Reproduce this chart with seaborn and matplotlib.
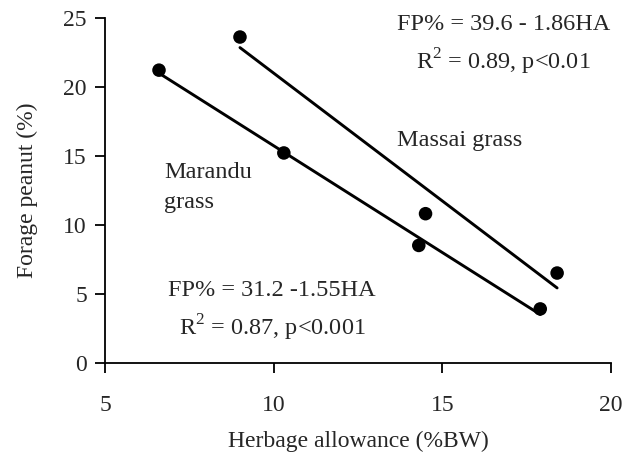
import pandas as pd
import seaborn as sns
import matplotlib.pyplot as plt

# Marandu grass
marandu_ha = [6.6, 10.3, 14.3, 17.9]
marandu_fp = [21.2, 15.2, 8.5, 3.9]

# Massai grass
massai_ha = [9.0, 14.5, 18.4]
massai_fp = [23.6, 10.8, 6.5]

x_ticks = [5, 10, 15, 20]
y_ticks = [0, 5, 10, 15, 20, 25]

sns.set_style("ticks")
plt.rcParams['font.family'] = ['Liberation Serif', 'DejaVu Serif']
plt.rcParams['mathtext.fontset'] = 'custom'
plt.rcParams['mathtext.rm'] = 'Liberation Serif'
plt.rcParams['font.size'] = 17

df_mar = pd.DataFrame({'ha': marandu_ha, 'fp': marandu_fp})
df_mas = pd.DataFrame({'ha': massai_ha, 'fp': massai_fp})

fig = plt.figure(figsize=(6.3, 4.54), dpi=100)
ax = fig.add_axes([0.1667, 0.201, 0.8033, 0.76])

for d in (df_mar, df_mas):
    sns.regplot(data=d, x='ha', y='fp', ci=None, truncate=True, ax=ax,
                color='black',
                scatter_kws={'s': 95, 'edgecolor': 'none', 'alpha': 1, 'zorder': 3},
                line_kws={'linewidth': 2.1})

ax.set_xlim(5, 20)
ax.set_ylim(0, 25)
ax.set_xticks(x_ticks)
ax.set_yticks(y_ticks)
ax.set_xlabel("Herbage allowance (%BW)", fontsize=17, labelpad=11)
ax.set_ylabel("Forage peanut (%)", fontsize=17, labelpad=18)
ax.tick_params(axis='both', labelsize=17, width=1.3, length=7, color='black')
ax.tick_params(axis='x', pad=16)
ax.tick_params(axis='y', pad=6)
for s in ('left', 'bottom'):
    ax.spines[s].set_linewidth(1.3)
    ax.spines[s].set_color('black')
sns.despine(ax=ax)

fs = 17.5
ax.text(16.8, 24.5, "FP% = 39.6 - 1.86HA", ha='center', va='center', fontsize=fs)
ax.text(16.8, 21.8, "R$^2$ = 0.89, p<0.01", ha='center', va='center', fontsize=fs)
ax.text(13.65, 16.1, "Massai grass", ha='left', va='center', fontsize=fs)
ax.text(6.75, 13.8, "Marandu", ha='left', va='center', fontsize=fs)
ax.text(6.75, 11.6, "grass", ha='left', va='center', fontsize=fs)
ax.text(9.95, 5.2, "FP% = 31.2 -1.55HA", ha='center', va='center', fontsize=fs)
ax.text(9.95, 2.5, "R$^2$ = 0.87, p<0.001", ha='center', va='center', fontsize=fs)

fig.savefig("out.png", dpi=100)
